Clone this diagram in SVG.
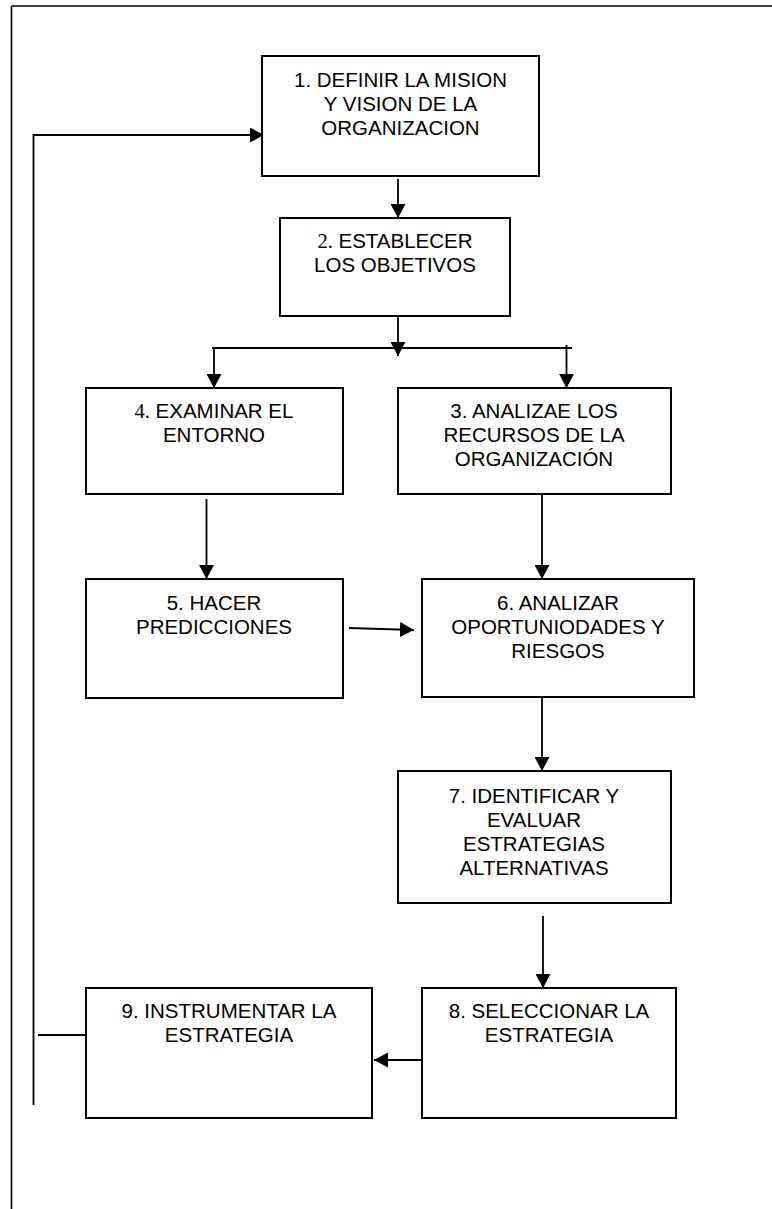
<svg xmlns="http://www.w3.org/2000/svg" width="772" height="1209" viewBox="0 0 772 1209">
<style>
  .box { fill: #fff; stroke: #000; stroke-width: 2; }
  .lbl { font-family: "Liberation Sans", Arial, sans-serif; font-size: 20.5px; fill: #000; text-anchor: middle; }
  .serif { font-family: "Liberation Serif", "Times New Roman", serif; }
  .ln { fill: none; stroke: #000; stroke-width: 1.8; }
  .arr { marker-end: url(#ah); }
  .frame { fill: none; stroke: #000; stroke-width: 1.6; }
</style>
<defs>
  <marker id="ah" markerUnits="userSpaceOnUse" markerWidth="15" markerHeight="15" refX="14" refY="7.5" orient="auto">
    <path d="M0,0 L14,7.5 L0,15 Z" fill="#000"/>
  </marker>
</defs>
<rect width="772" height="1209" fill="#fff"/>
<g id="frame">
  <line class="frame" x1="11.5" y1="6" x2="772" y2="6"/>
  <line class="frame" x1="11.5" y1="6" x2="11.5" y2="1209"/>
</g>
<g id="connectors">
  <line class="ln arr" x1="398" y1="179" x2="398" y2="218"/>
  <line class="ln arr" x1="398" y1="316" x2="398" y2="356"/>
  <line class="ln" x1="212" y1="348" x2="572" y2="348"/>
  <line class="ln arr" x1="214" y1="347" x2="214" y2="388"/>
  <line class="ln arr" x1="566.5" y1="345" x2="566.5" y2="388"/>
  <line class="ln arr" x1="206.5" y1="499" x2="206.5" y2="579"/>
  <line class="ln arr" x1="542" y1="494" x2="542" y2="579"/>
  <line class="ln arr" x1="349" y1="628" x2="414" y2="630"/>
  <line class="ln arr" x1="542" y1="697" x2="542" y2="771"/>
  <line class="ln arr" x1="543" y1="916" x2="543" y2="988"/>
  <line class="ln arr" x1="427" y1="1060" x2="374" y2="1060"/>
  <line class="ln" x1="38" y1="1035" x2="86" y2="1035"/>
  <polyline class="ln arr" points="33.5,1105 33.5,135 264,135"/>
</g>
<g id="n1">
  <rect class="box" x="262" y="56" width="277" height="120"/>
  <text class="lbl" x="400.5" y="87">1. DEFINIR LA MISION</text>
  <text class="lbl" x="400.5" y="111">Y VISION DE LA</text>
  <text class="lbl" x="400.5" y="135">ORGANIZACION</text>
</g>
<g id="n2">
  <rect class="box" x="280" y="218" width="230" height="98"/>
  <text class="lbl" x="395" y="248"><tspan class="serif">2.</tspan> ESTABLECER</text>
  <text class="lbl" x="395" y="272">LOS OBJETIVOS</text>
</g>
<g id="n4">
  <rect class="box" x="86" y="388" width="257" height="106"/>
  <text class="lbl" x="214" y="418"><tspan class="serif">4.</tspan> EXAMINAR EL</text>
  <text class="lbl" x="214" y="442">ENTORNO</text>
</g>
<g id="n3">
  <rect class="box" x="398" y="388" width="273" height="106"/>
  <text class="lbl" x="534" y="418">3. ANALIZAE LOS</text>
  <text class="lbl" x="534" y="442">RECURSOS DE LA</text>
  <text class="lbl" x="534" y="466">ORGANIZACIÓN</text>
</g>
<g id="n5">
  <rect class="box" x="86" y="579" width="257" height="119"/>
  <text class="lbl" x="214" y="610">5. HACER</text>
  <text class="lbl" x="214" y="634">PREDICCIONES</text>
</g>
<g id="n6">
  <rect class="box" x="422" y="579" width="272" height="118"/>
  <text class="lbl" x="558" y="610">6. ANALIZAR</text>
  <text class="lbl" x="558" y="634">OPORTUNIODADES Y</text>
  <text class="lbl" x="558" y="658">RIESGOS</text>
</g>
<g id="n7">
  <rect class="box" x="398" y="771" width="273" height="132"/>
  <text class="lbl" x="534" y="803">7. IDENTIFICAR Y</text>
  <text class="lbl" x="534" y="827">EVALUAR</text>
  <text class="lbl" x="534" y="851">ESTRATEGIAS</text>
  <text class="lbl" x="534" y="875">ALTERNATIVAS</text>
</g>
<g id="n8">
  <rect class="box" x="422" y="988" width="254" height="130"/>
  <text class="lbl" x="549" y="1018">8. SELECCIONAR LA</text>
  <text class="lbl" x="549" y="1042">ESTRATEGIA</text>
</g>
<g id="n9">
  <rect class="box" x="86" y="988" width="286" height="130"/>
  <text class="lbl" x="229" y="1018">9. INSTRUMENTAR LA</text>
  <text class="lbl" x="229" y="1042">ESTRATEGIA</text>
</g>
</svg>
